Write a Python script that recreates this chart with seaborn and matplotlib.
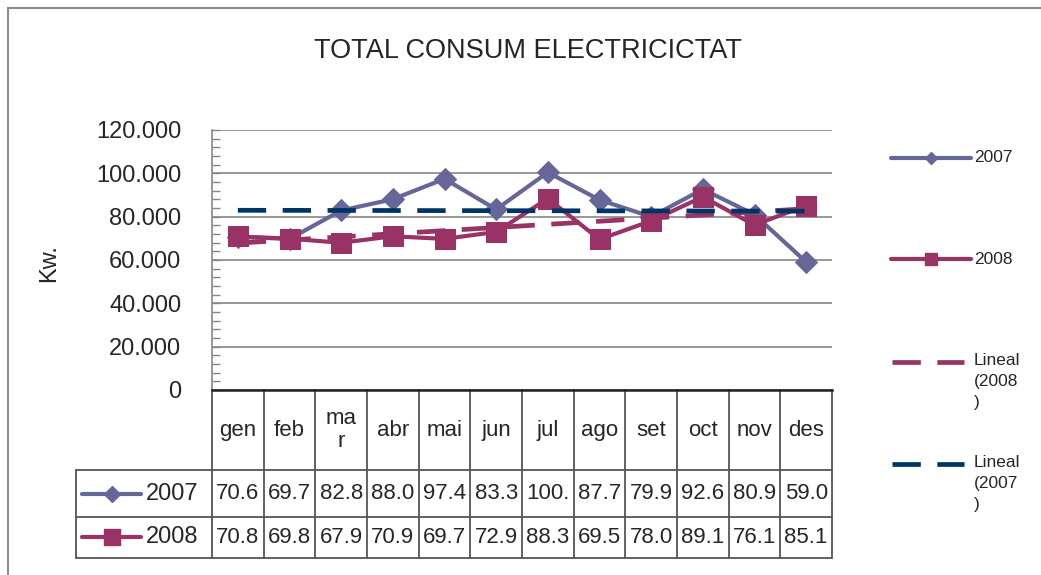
import numpy as np
import pandas as pd
import matplotlib
matplotlib.use("Agg")
import matplotlib.pyplot as plt
import seaborn as sns
from matplotlib.lines import Line2D
from matplotlib.patches import Rectangle
from matplotlib.ticker import MultipleLocator, FuncFormatter

months = ['gen', 'feb', 'mar', 'abr', 'mai', 'jun', 'jul', 'ago', 'set', 'oct', 'nov', 'des']
month_headers = ['gen', 'feb', 'ma\nr', 'abr', 'mai', 'jun', 'jul', 'ago', 'set', 'oct', 'nov', 'des']
kw_2007 = [70650, 69750, 82850, 88050, 97450, 83350, 100450, 87750, 79950, 92650, 80950, 59050]
kw_2008 = [70850, 69850, 67950, 70950, 69750, 72950, 88350, 69550, 78050, 89150, 76150, 85150]

c2007 = '#666699'
c2008 = '#993366'
ctrend07 = '#003366'

df = pd.DataFrame({'idx': range(len(months)), 'mes': months, '2007': kw_2007, '2008': kw_2008})

sns.set_theme(style='white')
plt.rcParams['font.family'] = ['Liberation Sans', 'DejaVu Sans']

W, H = 1041, 575
fig = plt.figure(figsize=(W / 100, H / 100), dpi=100)
ax = fig.add_axes([212 / W, 1 - 390 / H, 620 / W, 260 / H])

# series
sns.lineplot(data=df, x='idx', y='2007', color=c2007, lw=3, marker='D', markersize=11,
             markeredgecolor=c2007, ax=ax, zorder=3)
sns.lineplot(data=df, x='idx', y='2008', color=c2008, lw=3, marker='s', markersize=14,
             markeredgecolor=c2008, ax=ax, zorder=3)
# linear trend lines
sns.regplot(data=df, x='idx', y='2008', scatter=False, ci=None, ax=ax, color=c2008,
            line_kws={'lw': 3.4, 'dashes': (6, 3.5), 'zorder': 4})
sns.regplot(data=df, x='idx', y='2007', scatter=False, ci=None, ax=ax, color=ctrend07,
            line_kws={'lw': 3.4, 'dashes': (6, 3.5), 'zorder': 4})

ax.set_xlim(-0.5, len(months) - 0.5)
ax.set_ylim(0, 120000)
ax.yaxis.set_major_locator(MultipleLocator(20000))
ax.yaxis.set_minor_locator(MultipleLocator(4000))
ax.yaxis.set_major_formatter(FuncFormatter(lambda v, p: f"{v:,.0f}".replace(",", ".")))
ax.set_xticks([])
ax.set_xlabel('')
ax.set_ylabel('Kw.', fontsize=17)
ax.yaxis.set_label_coords(-0.245, 0.49)
ax.grid(axis='y', color='#868686', lw=1.2)
ax.tick_params(axis='y', which='major', direction='in', length=6, width=1, color='#868686',
               labelsize=17, pad=22, left=True)
ax.tick_params(axis='y', which='minor', direction='in', length=6, width=1, color='#868686', left=True)
for s in ['top', 'right']:
    ax.spines[s].set_visible(False)
ax.spines['left'].set_color('#868686')
ax.spines['left'].set_linewidth(1.2)
ax.spines['bottom'].set_color('#222222')
ax.spines['bottom'].set_linewidth(1.8)
ax.set_axisbelow(True)

# data table under the plot
tr = ax.get_xaxis_transform()
tcol = '#555555'
y_head, y_r1, y_r2 = -0.3077, -0.4885, -0.646
x_left = -0.219
n = len(months)
for i in range(n + 1):
    ax.add_line(Line2D([i - 0.5, i - 0.5], [0, y_r2], transform=tr, color=tcol, lw=1.3, clip_on=False))
for yy in [y_head, y_r1, y_r2]:
    ax.add_line(Line2D([x_left, 1], [yy, yy], transform=ax.transAxes, color=tcol, lw=1.3, clip_on=False))
ax.add_line(Line2D([x_left, x_left], [y_head, y_r2], transform=ax.transAxes, color=tcol, lw=1.3, clip_on=False))

for i, m in enumerate(month_headers):
    ax.text(i, y_head / 2, m, transform=tr, ha='center', va='center', fontsize=16,
            linespacing=1.1, clip_on=False)
rows = [('2007', kw_2007, c2007, 'D', 7.8, (y_head + y_r1) / 2),
        ('2008', kw_2008, c2008, 's', 11.5, (y_r1 + y_r2) / 2)]
for name, vals, col, mk, ms, yc in rows:
    for i, v in enumerate(vals):
        txt = f"{v:,.0f}".replace(",", ".")[:4]
        ax.text(i, yc, txt, transform=tr, ha='center', va='center', fontsize=16, clip_on=False)
    ax.add_line(Line2D([-0.209, -0.115], [yc, yc], transform=ax.transAxes, color=col, lw=3,
                       clip_on=False))
    ax.add_line(Line2D([-0.162], [yc], transform=ax.transAxes, color=col, marker=mk,
                       markersize=ms, lw=0, clip_on=False))
    ax.text(-0.107, yc, name, transform=ax.transAxes, ha='left', va='center', fontsize=17,
            clip_on=False)

# legend on the right
def fx(px):
    return px / W

def fy(py):
    return 1 - py / H

leg = [('2007', c2007, 'D', 6.3, None, 158),
       ('2008', c2008, 's', 8.6, None, 259),
       ('Lineal\n(2008\n)', c2008, None, 0, (6, 3.5), 362),
       ('Lineal\n(2007\n)', ctrend07, None, 0, (6, 3.5), 464)]
for label, col, mk, ms, dash, py in leg:
    if dash is None:
        fig.add_artist(Line2D([fx(891), fx(971)], [fy(py), fy(py)], color=col, lw=3,
                              solid_capstyle='round'))
        fig.add_artist(Line2D([fx(931)], [fy(py)], color=col, marker=mk, markersize=ms, lw=0))
        fig.text(fx(974), fy(py), label, ha='left', va='center', fontsize=12.5)
    else:
        fig.add_artist(Line2D([fx(892), fx(964)], [fy(py), fy(py)], color=col, lw=3.4, dashes=dash))
        fig.text(fx(974), fy(py - 9), label, ha='left', va='top', fontsize=12.5, linespacing=1.5)

fig.suptitle('TOTAL CONSUM ELECTRICICTAT', x=528 / W, y=fy(51), ha='center', va='center',
             fontsize=19.5)

# chart frame
fig.add_artist(Rectangle((fx(8), -0.1), 1.2, fy(8) + 0.1, transform=fig.transFigure,
                         fill=False, ec='#8c8c8c', lw=1.5))

fig.savefig('out.png', dpi=100)
